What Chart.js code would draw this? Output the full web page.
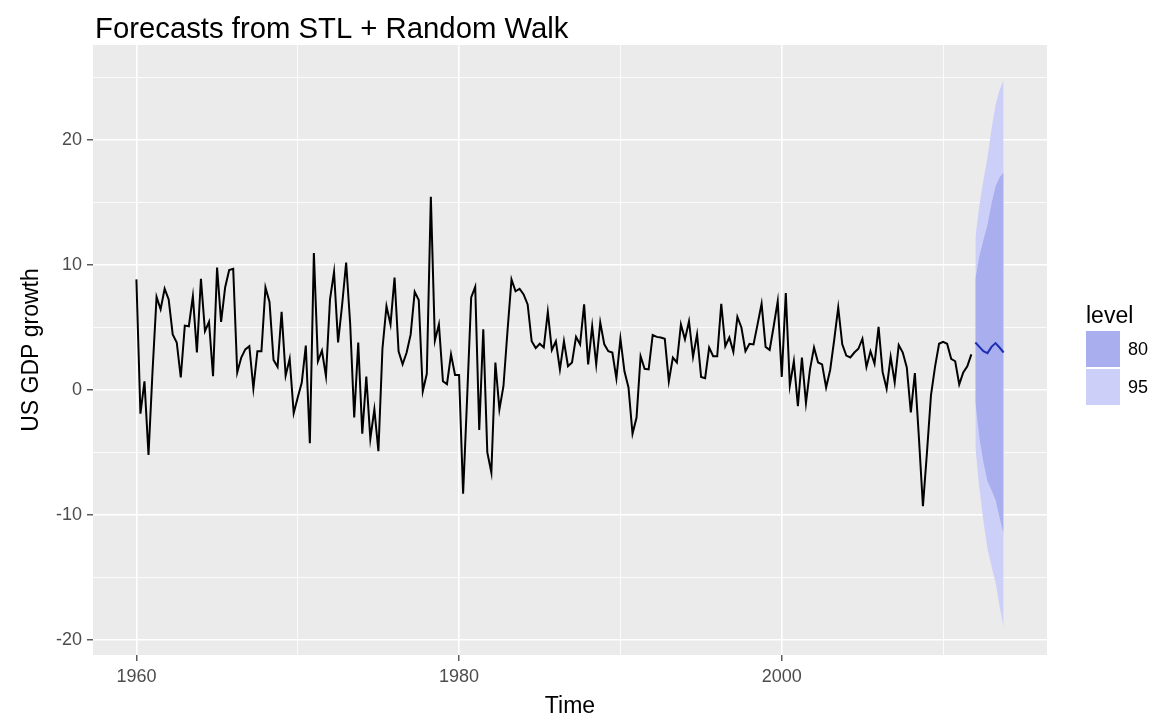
<!DOCTYPE html>
<html>
<head>
<meta charset="utf-8">
<title>US GDP growth forecast</title>
<script src="https://cdn.jsdelivr.net/npm/chart.js@4.4.1/dist/chart.umd.min.js"></script>
<style>
  html, body { margin: 0; padding: 0; background: #fff; }
  #wrap { width: 1157px; height: 722px; }
</style>
</head>
<body>
<div id="wrap"><canvas id="gdp-chart" width="1157" height="722"></canvas></div>
<script>
// quarterly US GDP growth, 1960 Q1 .. 2011 Q4
const startYear = 1960;
const gdpGrowth = [
  8.85, -1.9, 0.7, -5.2, 1.5, 7.45, 6.45, 8.1, 7.25, 4.45, 3.8, 1.0,
  5.15, 5.1, 7.5, 3.0, 8.9, 4.7, 5.45, 1.1, 9.8, 5.45, 8.2, 9.6,
  9.7, 1.4, 2.6, 3.25, 3.5, 0.12, 3.1, 3.1, 8.2, 7.05, 2.4, 1.85,
  6.25, 1.15, 2.5, -1.85, -0.6, 0.6, 3.55, -4.25, 10.95, 2.3, 3.15, 1.1,
  7.25, 9.45, 3.8, 6.8, 10.2, 5.3, -2.2, 3.8, -3.5, 1.07, -3.9, -1.55,
  -4.9, 3.3, 6.7, 5.25, 9.0, 3.1, 2.05, 3.0, 4.45, 7.85, 7.2, -0.1,
  1.3, 15.45, 3.95, 5.25, 0.7, 0.47, 2.85, 1.2, 1.2, -8.3, -0.6, 7.4,
  8.25, -3.2, 4.85, -5.0, -6.6, 2.2, -1.55, 0.3, 4.7, 8.85, 7.9, 8.1,
  7.65, 6.85, 3.9, 3.35, 3.7, 3.4, 6.25, 3.2, 3.9, 1.65, 3.9, 1.9,
  2.2, 4.25, 3.65, 6.85, 2.05, 5.1, 2.05, 5.4, 3.65, 3.1, 3.0, 0.93,
  4.1, 1.5, 0.2, -3.5, -2.2, 2.7, 1.7, 1.65, 4.4, 4.25, 4.2, 4.1,
  0.7, 2.6, 2.2, 5.25, 4.05, 5.5, 2.65, 4.45, 1.05, 0.95, 3.4, 2.7,
  2.7, 6.9, 3.5, 4.2, 3.05, 5.85, 5.0, 3.1, 3.7, 3.65, 5.25, 6.9,
  3.45, 3.2, 5.1, 7.1, 1.05, 7.75, 0.35, 2.3, -1.3, 2.6, -1.05, 1.65,
  3.4, 2.2, 2.05, 0.2, 1.6, 4.0, 6.6, 3.65, 2.75, 2.6, 3.0, 3.3,
  4.1, 1.85, 3.1, 2.1, 5.05, 1.45, 0.1, 2.65, 0.6, 3.6, 3.0, 1.8,
  -1.8, 1.35, -3.8, -9.3, -5.0, -0.4, 1.85, 3.7, 3.85, 3.7, 2.5, 2.3,
  0.45, 1.4, 1.9, 2.85
];

// eight quarters ahead, 2012 Q1 .. 2013 Q4
const forecastStart = 2012;
const fcMean = [3.8, 3.45, 3.1, 2.95, 3.45, 3.75, 3.4, 3.0];
const fcHi80 = [8.9, 10.7, 12.0, 13.2, 14.9, 16.3, 17.0, 17.4];
const fcLo80 = [-1.0, -3.8, -5.8, -7.3, -8.0, -8.8, -10.2, -11.5];
const fcHi95 = [12.2, 14.8, 16.8, 18.6, 20.9, 22.8, 24.0, 24.8];
const fcLo95 = [-4.6, -7.9, -10.5, -12.7, -14.1, -15.4, -17.3, -19.0];

const xTicks = [1960, 1970, 1980, 1990, 2000, 2010];
const xLabelled = [1960, 1980, 2000];
const yTicks = [-20, -15, -10, -5, 0, 5, 10, 15, 20, 25];
const yLabelled = [-20, -10, 0, 10, 20];

const levels = ['80', '95'];
const levelColors = ['#A9AEEE', '#CCD0F9'];

const fontFamily = '"Liberation Sans", Arial, Helvetica, sans-serif';

const toPoints = (vals, start) => vals.map((v, i) => ({ x: start + i / 4, y: v }));

// grey panel behind the plot, plus title and fill legend
const ggDecor = {
  id: 'ggDecor',
  beforeDraw(chart) {
    const { ctx, chartArea: a } = chart;
    ctx.save();
    ctx.fillStyle = '#EBEBEB';
    ctx.fillRect(a.left, a.top, a.right - a.left, a.bottom - a.top);
    ctx.restore();
  },
  afterDraw(chart) {
    const { ctx } = chart;
    ctx.save();
    ctx.fillStyle = '#000';
    ctx.textBaseline = 'alphabetic';
    ctx.textAlign = 'left';
    ctx.font = '29.3px ' + fontFamily;
    ctx.fillText('Forecasts from STL + Random Walk', 95, 38);

    // legend
    const lx = 1086, ly = 331, kw = 34, kh = 36;
    ctx.font = '23px ' + fontFamily;
    ctx.fillText('level', lx, 323);
    ctx.font = '18px ' + fontFamily;
    ctx.textBaseline = 'middle';
    levels.forEach((lab, i) => {
      const y = ly + i * (kh + 2);
      ctx.fillStyle = levelColors[i];
      ctx.fillRect(lx, y, kw, kh);
      ctx.fillStyle = '#000';
      ctx.fillText(lab, lx + kw + 8, y + kh / 2 + 1);
    });
    ctx.restore();
  }
};

const ctx = document.getElementById('gdp-chart').getContext('2d');

new Chart(ctx, {
  type: 'line',
  data: {
    datasets: [
      {
        label: 'history',
        data: toPoints(gdpGrowth, startYear),
        borderColor: '#000000',
        borderWidth: 2,
        pointRadius: 0,
        fill: false,
        order: 0
      },
      {
        label: 'forecast',
        data: toPoints(fcMean, forecastStart),
        borderColor: '#1C2FB2',
        borderWidth: 2,
        pointRadius: 0,
        fill: false,
        order: 1
      },
      {
        label: 'hi80',
        data: toPoints(fcHi80, forecastStart),
        borderColor: 'transparent',
        borderWidth: 0,
        pointRadius: 0,
        fill: false,
        order: 2
      },
      {
        label: 'lo80',
        data: toPoints(fcLo80, forecastStart),
        borderColor: 'transparent',
        borderWidth: 0,
        pointRadius: 0,
        backgroundColor: levelColors[0],
        fill: '-1',
        order: 2
      },
      {
        label: 'hi95',
        data: toPoints(fcHi95, forecastStart),
        borderColor: 'transparent',
        borderWidth: 0,
        pointRadius: 0,
        fill: false,
        order: 3
      },
      {
        label: 'lo95',
        data: toPoints(fcLo95, forecastStart),
        borderColor: 'transparent',
        borderWidth: 0,
        pointRadius: 0,
        backgroundColor: levelColors[1],
        fill: '-1',
        order: 3
      }
    ]
  },
  options: {
    responsive: false,
    animation: false,
    events: [],
    layout: { padding: { top: 45, right: 110, left: 0, bottom: 0 } },
    plugins: {
      legend: { display: false },
      tooltip: { enabled: false },
      title: { display: false }
    },
    scales: {
      x: {
        type: 'linear',
        min: 1957.31,
        max: 2016.44,
        afterBuildTicks: scale => { scale.ticks = xTicks.map(v => ({ value: v })); },
        afterFit: scale => { scale.height = 67; },
        border: { display: false },
        grid: {
          color: '#FFFFFF',
          lineWidth: c => (xLabelled.includes(c.tick.value) ? 1.6 : 0.8),
          tickColor: c => (xLabelled.includes(c.tick.value) ? '#333333' : 'transparent'),
          tickWidth: 1.2,
          tickLength: 6
        },
        ticks: {
          autoSkip: false,
          maxRotation: 0,
          padding: 5,
          color: '#4D4D4D',
          font: { family: fontFamily, size: 18 },
          callback: v => (xLabelled.includes(v) ? String(v) : '')
        },
        title: {
          display: true,
          text: 'Time',
          color: '#000',
          font: { family: fontFamily, size: 23 },
          padding: { top: 0, bottom: 2 }
        }
      },
      y: {
        type: 'linear',
        min: -21.2,
        max: 27.6,
        afterBuildTicks: scale => { scale.ticks = yTicks.map(v => ({ value: v })); },
        afterFit: scale => { scale.width = 93; },
        border: { display: false },
        grid: {
          color: '#FFFFFF',
          lineWidth: c => (yLabelled.includes(c.tick.value) ? 1.6 : 0.8),
          tickColor: c => (yLabelled.includes(c.tick.value) ? '#333333' : 'transparent'),
          tickWidth: 1.2,
          tickLength: 6
        },
        ticks: {
          autoSkip: false,
          padding: 5,
          color: '#4D4D4D',
          font: { family: fontFamily, size: 18 },
          callback: v => (yLabelled.includes(v) ? String(v) : '')
        },
        title: {
          display: true,
          text: 'US GDP growth',
          color: '#000',
          font: { family: fontFamily, size: 23 },
          padding: { top: 18, bottom: 0 }
        }
      }
    }
  },
  plugins: [ggDecor]
});
</script>
</body>
</html>
